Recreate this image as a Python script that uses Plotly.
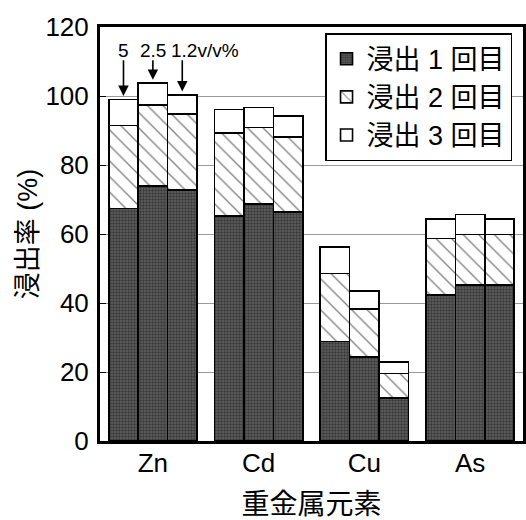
import plotly.graph_objects as go

elements = ["Zn", "Cd", "Cu", "As"]
concentrations = ["5", "2.5", "1.2v/v%"]
series_names = ["浸出 1 回目", "浸出 2 回目", "浸出 3 回目"]

# cumulative tops, per element: [conc 5, 2.5, 1.2]
top1 = [[67.4, 73.9, 72.7], [65.3, 68.7, 66.3], [28.8, 24.4, 12.4], [42.3, 45.2, 45.2]]
top2 = [[91.5, 97.4, 94.8], [89.2, 90.9, 88.2], [48.6, 38.3, 19.6], [58.7, 59.9, 59.9]]
top3 = [[99.0, 103.7, 100.3], [96.1, 96.7, 94.2], [56.3, 43.4, 22.9], [64.4, 65.7, 64.4]]

bar_w = 0.278
xs, s1, s2, s3 = [], [], [], []
for i in range(len(elements)):
    for j in range(3):
        xs.append(i + (j - 1) * bar_w)
        s1.append(top1[i][j])
        s2.append(top2[i][j] - top1[i][j])
        s3.append(top3[i][j] - top2[i][j])

CJK = "Liberation Sans, Noto Sans CJK JP"
fig = go.Figure()
line = dict(color="black", width=1.6)
fig.add_trace(go.Bar(x=xs, y=s1, width=bar_w, name=series_names[0],
                     marker=dict(color="#404040", line=line,
                                 pattern=dict(shape=".", fgcolor="#111111", bgcolor="#606060",
                                              size=3, solidity=0.5))))
fig.add_trace(go.Bar(x=xs, y=s2, width=bar_w, name=series_names[1],
                     marker=dict(color="white", line=line,
                                 pattern=dict(shape="\\", fgcolor="black", bgcolor="white",
                                              size=11, solidity=0.12))))
fig.add_trace(go.Bar(x=xs, y=s3, width=bar_w, name=series_names[2],
                     marker=dict(color="white", line=line)))

# arrows and concentration labels over Zn bars
ann = []
shifts = [0, 0, 23]
for j in range(3):
    ann.append(dict(x=xs[j], y=top3[0][j] + 1.0, xref="x", yref="y",
                    text="", showarrow=True, arrowhead=2, arrowsize=1.3,
                    arrowwidth=1.6, arrowcolor="black",
                    ax=xs[j], ay=110.8, axref="x", ayref="y"))
    ann.append(dict(x=xs[j], y=113.3, xref="x", yref="y", xshift=shifts[j],
                    text=concentrations[j], showarrow=False,
                    font=dict(family=CJK, size=19, color="black")))
fig.update_layout(annotations=ann)

fig.update_layout(
    barmode="stack",
    width=526, height=520,
    margin=dict(l=100, r=3, t=27, b=79, autoexpand=False),
    paper_bgcolor="white", plot_bgcolor="white",
    font=dict(family=CJK, size=26, color="black"),
    legend=dict(x=0.532, y=0.985, xanchor="left", yanchor="top",
                bgcolor="white", bordercolor="black", borderwidth=1.5,
                font=dict(family=CJK, size=27), traceorder="normal",
                itemwidth=30, tracegroupgap=0),
    xaxis=dict(range=[-0.5, 3.5], tickmode="array", tickvals=list(range(len(elements))),
               ticktext=elements, showline=True, linecolor="black", linewidth=3,
               mirror=True, ticks="", showgrid=False, zeroline=False, automargin=False,
               tickfont=dict(size=26), ticklabelstandoff=-3,
               title=dict(text="重金属元素", font=dict(size=28), standoff=30)),
    yaxis=dict(range=[0, 120], tickmode="array", tickvals=[0, 20, 40, 60, 80, 100, 120],
               showline=True, linecolor="black", linewidth=3, mirror=True,
               ticks="inside", ticklen=6, tickcolor="black", automargin=False,
               tickfont=dict(size=26), ticklabelstandoff=3,
               showgrid=True, gridcolor="#9a9a9a", gridwidth=1, zeroline=False,
               title=dict(text="浸出率 (%)", font=dict(size=27), standoff=0)),
)
fig.write_html("out.html", config={"displayModeBar": False},
               post_script="document.body.style.margin='0';")
